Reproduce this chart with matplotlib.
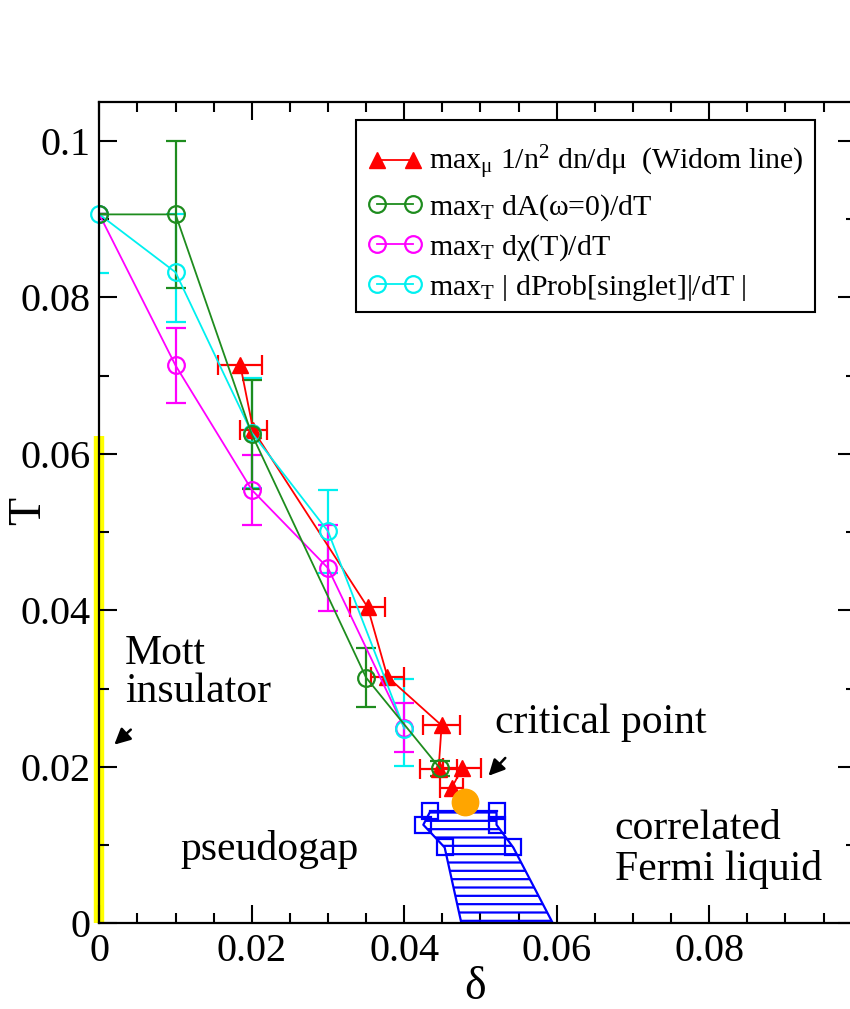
import matplotlib
matplotlib.use("Agg")
import matplotlib.pyplot as plt
from matplotlib.ticker import FixedLocator, MultipleLocator
from matplotlib.patches import Rectangle

plt.rcParams['font.family'] = ['Liberation Serif', 'DejaVu Serif']
plt.rcParams['mathtext.fontset'] = 'custom'
plt.rcParams['mathtext.rm'] = 'Liberation Serif'
plt.rcParams['mathtext.it'] = 'Liberation Serif:italic'
plt.rcParams['hatch.linewidth'] = 1.6

# ---------------- data ----------------
# Widom line (red triangles, horizontal error bars)
red_x = [0.0185, 0.0202, 0.0352, 0.0378, 0.0449, 0.0445, 0.0476, 0.0462]
red_T = [0.0713, 0.0630, 0.0404, 0.0315, 0.0253, 0.0197, 0.0198, 0.0173]
red_xerr = [0.0029, 0.0018, 0.0023, 0.0022, 0.0024, 0.0024, 0.0025, 0.0015]

# max_T dA(w=0)/dT (green)
green_x = [0.0, 0.01, 0.02, 0.035, 0.0447]
green_T = [0.0906, 0.0906, 0.0625, 0.0314, 0.0198]
green_err = [0.0, 0.0094, 0.0070, 0.0038, 0.0010]

# max_T dchi/dT (magenta)
mag_x = [0.0, 0.01, 0.02, 0.03, 0.04]
mag_T = [0.0906, 0.0713, 0.0554, 0.0454, 0.0250]
mag_err = [0.0, 0.0048, 0.0045, 0.0055, 0.0031]

# max_T |dProb[singlet]/dT| (cyan)
cyan_x = [0.0, 0.01, 0.02, 0.03, 0.04]
cyan_T = [0.0906, 0.0832, 0.0627, 0.0501, 0.0249]
cyan_err_lo = [0.0075, 0.0064, 0.0070, 0.0053, 0.0048]
cyan_err_hi = [0.0, 0.0074, 0.0070, 0.0053, 0.0063]

# critical point
crit_x = [0.0480]
crit_T = [0.0155]

# coexistence region (blue)
coex_T = [0.0143, 0.0126, 0.0097, 0.0]
coex_left = [0.0434, 0.0425, 0.0453, 0.0475]
coex_right = [0.0521, 0.0521, 0.0543, 0.0595]

# Mott insulator line at delta = 0
mott_T = [0.0, 0.0623]
mott_x = [0.0, 0.0]

labels = [r"max$_{\mathrm{\mu}}$ 1/n$^{2}$ dn/dμ  (Widom line)",
          r"max$_{\mathrm{T}}$ dA(ω=0)/dT",
          r"max$_{\mathrm{T}}$ dχ(T)/dT",
          r"max$_{\mathrm{T}}$ | dProb[singlet]|/dT |"]

xticks = [0.0, 0.02, 0.04, 0.06, 0.08]
xticklabels = ["0", "0.02", "0.04", "0.06", "0.08"]
yticks = [0.0, 0.02, 0.04, 0.06, 0.08, 0.1]
yticklabels = ["0", "0.02", "0.04", "0.06", "0.08", "0.1"]

RED = '#ff0000'
GREEN = '#1e8c1e'
MAG = '#ff00ff'
CYAN = '#00f0f0'
BLUE = '#0000ff'

fig = plt.figure(figsize=(8.5, 10.09), dpi=100)
x0_px, x1_px = 99.3, 855.6
y0_px, y1_px = 923.4, 101.7
W_px, H_px = x1_px - x0_px, y0_px - y1_px
ax = fig.add_axes([x0_px/850, 1 - y0_px/1009, W_px/850, H_px/1009])
ax.set_xlim(0, 0.0992)
ax.set_ylim(0, 0.105)

def ax_x(px):
    return (px - x0_px) / W_px

def ax_y(py):
    return (y0_px - py) / H_px

# Mott line
ax.plot(mott_x, mott_T, color='#ffff00', lw=7.5, solid_capstyle='butt', zorder=1, clip_on=False)

# coexistence region
ax.fill_betweenx(coex_T, coex_left, coex_right, facecolor='none', edgecolor=BLUE,
                 hatch='--', linewidth=0, zorder=2)
ax.plot(coex_left, coex_T, color=BLUE, lw=1.6, zorder=3)
ax.plot(coex_right, coex_T, color=BLUE, lw=1.6, zorder=3)
ax.plot([coex_left[0], coex_right[0]], [coex_T[0], coex_T[0]], color=BLUE, lw=1.6, zorder=3)
ax.plot(coex_left[:-1], coex_T[:-1], ls='none', marker='s', ms=12, mfc='none', mec=BLUE, mew=1.6, zorder=3)
ax.plot(coex_right[:-1], coex_T[:-1], ls='none', marker='s', ms=12, mfc='none', mec=BLUE, mew=1.6, zorder=3)

ms = 12
# error bars
ax.errorbar(cyan_x, cyan_T, yerr=[cyan_err_lo, cyan_err_hi], fmt='none', ecolor=CYAN,
            elinewidth=1.6, capsize=7, capthick=1.6, zorder=4)
ax.errorbar(mag_x, mag_T, yerr=mag_err, fmt='none', ecolor=MAG,
            elinewidth=1.6, capsize=7, capthick=1.6, zorder=4)
ax.errorbar(green_x, green_T, yerr=green_err, fmt='none', ecolor=GREEN,
            elinewidth=1.6, capsize=7, capthick=1.6, zorder=4)
ax.errorbar(red_x, red_T, xerr=red_xerr, fmt='none', ecolor=RED,
            elinewidth=1.6, capsize=7, capthick=1.6, zorder=4)

# series
h_red, = ax.plot(red_x, red_T, color=RED, lw=1.3, marker='^', ms=ms, mfc=RED, mec=RED, zorder=5)
h_green, = ax.plot(green_x, green_T, color=GREEN, lw=1.3, marker='o', ms=ms, mfc='none', mec=GREEN, mew=1.6, zorder=6)
h_mag, = ax.plot(mag_x, mag_T, color=MAG, lw=1.3, marker='o', ms=ms, mfc='none', mec=MAG, mew=1.6, zorder=5)
h_cyan, = ax.plot(cyan_x, cyan_T, color=CYAN, lw=1.3, marker='o', ms=ms, mfc='none', mec=CYAN, mew=1.6, zorder=5, clip_on=False)

ax.plot(crit_x, crit_T, ls='none', marker='o', ms=19, mfc='#ffa500', mec='#ffa500', zorder=7)

# annotations
fs = 30
ax.text(0.0034, 0.0320, "Mott\ninsulator", fontsize=fs, ha='left', va='center', linespacing=1.0)
ax.text(0.0519, 0.0257, "critical point", fontsize=fs, ha='left', va='center')
ax.text(0.0106, 0.0094, "pseudogap", fontsize=fs, ha='left', va='center')
ax.text(0.0676, 0.0095, "correlated\nFermi liquid", fontsize=fs, ha='left', va='center', linespacing=1.05)
ax.annotate("", xy=(0.0017, 0.0226), xytext=(0.0044, 0.0250),
            arrowprops=dict(arrowstyle='-|>', color='black', lw=1.8, mutation_scale=24))
ax.annotate("", xy=(0.0508, 0.0186), xytext=(0.0535, 0.0214),
            arrowprops=dict(arrowstyle='-|>', color='black', lw=1.8, mutation_scale=24))

# axes styling
for s in ax.spines.values():
    s.set_linewidth(1.6)
    s.set_zorder(8)
ax.xaxis.set_major_locator(FixedLocator(xticks))
ax.set_xticklabels(xticklabels)
ax.yaxis.set_major_locator(FixedLocator(yticks))
ax.set_yticklabels(yticklabels)
ax.xaxis.set_minor_locator(MultipleLocator(0.005))
ax.yaxis.set_minor_locator(MultipleLocator(0.01))
ax.tick_params(which='both', direction='in', top=True, right=True, width=1.5, labelsize=29)
ax.tick_params(which='major', length=13)
ax.tick_params(axis='y', which='major', pad=6)
ax.tick_params(axis='x', which='major', pad=7)
ax.tick_params(which='minor', length=7)
ax.set_xlabel("δ", fontsize=33)
ax.xaxis.set_label_coords(ax_x(475), ax_y(988))
ax.set_ylabel("T", fontsize=33)
ax.yaxis.set_label_coords(ax_x(29), ax_y(511))
ax.xaxis.label.set_va('center')
ax.yaxis.label.set_va('center')

# legend frame
frame = Rectangle((ax_x(356), ax_y(312)), ax_x(815) - ax_x(356), ax_y(120) - ax_y(312),
                  transform=ax.transAxes, facecolor='white', edgecolor='black',
                  linewidth=1.5, zorder=8.5)
ax.add_patch(frame)

leg = ax.legend([h_red, h_green, h_mag, h_cyan], labels, loc='upper left',
                bbox_to_anchor=(ax_x(368), ax_y(143.5)),
                borderaxespad=0, fontsize=21.5,
                numpoints=2, handlelength=1.8, handletextpad=0.25, labelspacing=0.33,
                frameon=False, borderpad=0.0, markerscale=1.0)
leg.set_zorder(9)

fig.savefig("out.png", dpi=100)
